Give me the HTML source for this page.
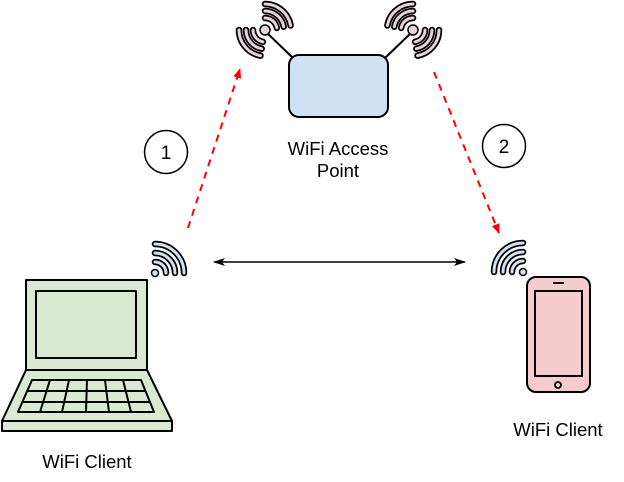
<!DOCTYPE html>
<html><head><meta charset="utf-8"><style>
html,body{margin:0;padding:0;background:#fff;}
svg{display:block;font-family:"Liberation Sans",Arial,sans-serif;}
.ob{fill:none;stroke:#000;stroke-width:6.5;stroke-linecap:round}
.ib{fill:none;stroke:#cfe2f3;stroke-width:3;stroke-linecap:round}
.ip{fill:none;stroke:#ead1dc;stroke-width:3;stroke-linecap:round}
</style></head><body>
<svg width="624" height="482" viewBox="0 0 624 482" xmlns="http://www.w3.org/2000/svg">
<defs>
<marker id="ar" markerWidth="10" markerHeight="10" refX="9" refY="5" orient="auto" markerUnits="userSpaceOnUse"><path d="M0,1 L10,5 L0,9 Z" fill="#f00"/></marker>
<marker id="ak" markerWidth="12" markerHeight="10" refX="11" refY="5" orient="auto" markerUnits="userSpaceOnUse"><path d="M0,1 L12,5 L0,9 L3,5 Z" fill="#000"/></marker>
<marker id="aks" markerWidth="12" markerHeight="10" refX="1" refY="5" orient="auto" markerUnits="userSpaceOnUse"><path d="M12,1 L0,5 L12,9 L9,5 Z" fill="#000"/></marker>
<g id="apw">
<path class="ob" d="M9.19,-7.71 A12,12 0 0 1 9.19,7.71 M14.55,-12.21 A19,19 0 0 1 14.55,12.21 M19.92,-16.72 A26,26 0 0 1 19.92,16.72"/>
<path class="ip" d="M9.19,-7.71 A12,12 0 0 1 9.19,7.71 M14.55,-12.21 A19,19 0 0 1 14.55,12.21 M19.92,-16.72 A26,26 0 0 1 19.92,16.72"/>
</g>
</defs>

<!-- AP -->
<line x1="293" y1="58" x2="265" y2="31" stroke="#000" stroke-width="2"/>
<line x1="385" y1="58" x2="413" y2="31" stroke="#000" stroke-width="2"/>
<rect x="289" y="55" width="99" height="62" rx="10" fill="#cfe2f3" stroke="#000" stroke-width="2"/>
<use href="#apw" transform="translate(265,30) rotate(-50)"/>
<use href="#apw" transform="translate(265,30) rotate(140)"/>
<use href="#apw" transform="translate(413,30) rotate(-130)"/>
<use href="#apw" transform="translate(413,30) rotate(40)"/>
<circle cx="265" cy="30" r="5" fill="#ead1dc" stroke="#000" stroke-width="1.5"/>
<circle cx="413" cy="30" r="5" fill="#ead1dc" stroke="#000" stroke-width="1.5"/>
<text x="338" y="155" font-size="18.5" text-anchor="middle">WiFi Access</text>
<text x="338" y="177" font-size="18.5" text-anchor="middle">Point</text>

<!-- circles -->
<circle cx="166" cy="152" r="21.5" fill="#fff" stroke="#000" stroke-width="1.5"/>
<text x="166" y="159" font-size="19" text-anchor="middle">1</text>
<circle cx="504" cy="146" r="21.5" fill="#fff" stroke="#000" stroke-width="1.5"/>
<text x="504" y="153" font-size="19" text-anchor="middle">2</text>

<!-- arrows -->
<line x1="188" y1="228" x2="240" y2="69" stroke="#f00" stroke-width="2" stroke-dasharray="7,6" marker-end="url(#ar)"/>
<line x1="434" y1="72" x2="499" y2="233" stroke="#f00" stroke-width="2" stroke-dasharray="7,6" marker-end="url(#ar)"/>
<line x1="214" y1="262" x2="465" y2="262" stroke="#000" stroke-width="1.5" marker-start="url(#aks)" marker-end="url(#ak)"/>

<!-- laptop wifi -->
<g transform="translate(155,273)">
<path class="ob" d="M0,-11 A11,11 0 0 1 11,0 M0,-20 A20,20 0 0 1 20,0 M0,-29 A29,29 0 0 1 29,0"/>
<path class="ib" d="M0,-11 A11,11 0 0 1 11,0 M0,-20 A20,20 0 0 1 20,0 M0,-29 A29,29 0 0 1 29,0"/>
<circle r="3.5" fill="#cfe2f3" stroke="#000" stroke-width="1.5"/>
</g>
<!-- phone wifi -->
<g transform="translate(523,272)">
<path class="ob" d="M-11,0 A11,11 0 0 1 0,-11 M-20,0 A20,20 0 0 1 0,-20 M-29,0 A29,29 0 0 1 0,-29"/>
<path class="ib" d="M-11,0 A11,11 0 0 1 0,-11 M-20,0 A20,20 0 0 1 0,-20 M-29,0 A29,29 0 0 1 0,-29"/>
<circle r="3.5" fill="#cfe2f3" stroke="#000" stroke-width="1.5"/>
</g>

<!-- laptop -->
<g stroke="#000" stroke-width="2" fill="#d9ead3" stroke-linejoin="round">
<rect x="26" y="280" width="121" height="90"/>
<rect x="36" y="291" width="100" height="67"/>
<path d="M26,370 L147,370 L172,421 L2,421 Z"/>
<rect x="2" y="421" width="170" height="10"/>
<path fill="#d9ead3" d="M32,380 L141,380 L154,412 L18,412 Z"/>
<g fill="none">
<line x1="27" y1="391" x2="145" y2="391"/>
<line x1="22" y1="402" x2="150" y2="402"/>
<line x1="50" y1="380" x2="40" y2="412"/>
<line x1="69" y1="380" x2="62" y2="412"/>
<line x1="87" y1="380" x2="86" y2="412"/>
<line x1="105" y1="380" x2="109" y2="412"/>
<line x1="123" y1="380" x2="131" y2="412"/>
</g>
</g>
<text x="87" y="468" font-size="18.5" text-anchor="middle">WiFi Client</text>

<!-- phone -->
<rect x="527" y="277" width="63" height="115" rx="9" fill="#f4cccc" stroke="#000" stroke-width="2"/>
<rect x="535" y="291" width="47" height="85" fill="#f4cccc" stroke="#000" stroke-width="2"/>
<line x1="553" y1="283" x2="564" y2="283" stroke="#000" stroke-width="2"/>
<circle cx="558" cy="385" r="3" fill="#f4cccc" stroke="#000" stroke-width="1.8"/>
<text x="558" y="436" font-size="18.5" text-anchor="middle">WiFi Client</text>
</svg>
</body></html>
